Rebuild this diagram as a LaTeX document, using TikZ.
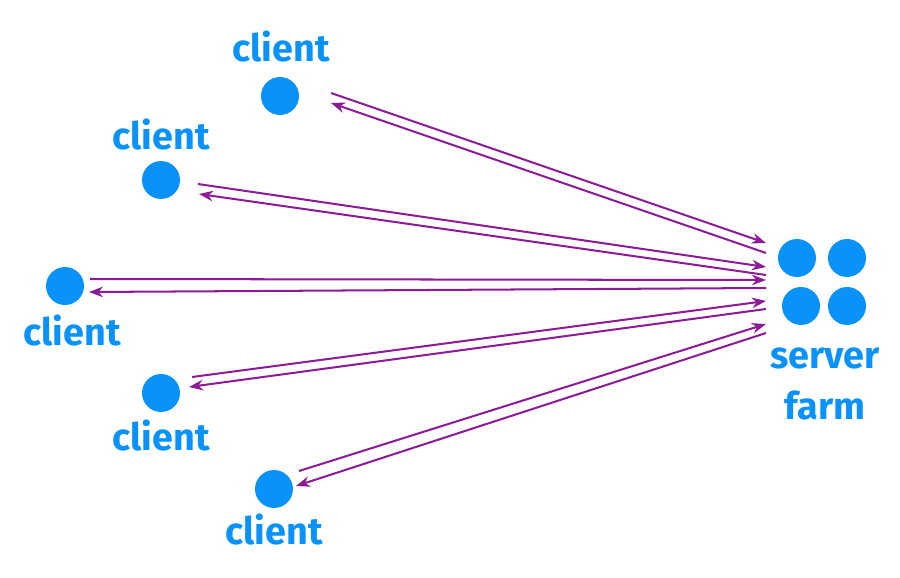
\documentclass[tikz,border=0pt]{standalone}
\usepackage{fontspec}
\setmainfont{Fira Sans}
\usetikzlibrary{arrows.meta}
\definecolor{hostblue}{RGB}{8,146,250}
\definecolor{linkpurple}{RGB}{140,28,150}
\begin{document}
\begin{tikzpicture}[x=0.02cm,y=-0.02cm,
  dot/.style={circle,fill=hostblue,draw=none,minimum size=0.76cm,inner sep=0pt},
  lbl/.style={text=hostblue,font=\fontsize{21.5}{25}\selectfont\bfseries,anchor=base,inner sep=0pt},
  link/.style={draw=linkpurple,line width=1.15pt,-{Stealth[length=8pt,width=6pt]}}]
\useasboundingbox (0,0) rectangle (900,578);

% clients
\node[dot] (c1) at (280,96) {};
\node[dot] (c2) at (161,180) {};
\node[dot] (c3) at (65,286) {};
\node[dot] (c4) at (161,393) {};
\node[dot] (c5) at (274,489) {};
\node[lbl] (l1) at (281,61) {client};
\node[lbl] (l2) at (161,149) {client};
\node[lbl] (l3) at (72,345) {client};
\node[lbl] (l4) at (161,450) {client};
\node[lbl] (l5) at (274,544) {client};

% server farm
\node[dot] (s1) at (797,258) {};
\node[dot] (s2) at (847,258) {};
\node[dot] (s3) at (801,306) {};
\node[dot] (s4) at (847,306) {};
\node[lbl] (sv) at (825,368) {server};
\node[lbl] (sf) at (825,419) {farm};

% link end points: client side
\coordinate (c1o) at (331,93);  \coordinate (c1i) at (331,103);
\coordinate (c2o) at (198,184); \coordinate (c2i) at (199,194);
\coordinate (c3o) at (90,279);  \coordinate (c3i) at (89,292);
\coordinate (c4o) at (192,377); \coordinate (c4i) at (189,387);
\coordinate (c5o) at (299,471); \coordinate (c5i) at (296,486);
% link end points: server side
\coordinate (f1i) at (766,243); \coordinate (f1o) at (766,253);
\coordinate (f2i) at (766,267); \coordinate (f2o) at (766,275);
\coordinate (f3i) at (766,280); \coordinate (f3o) at (766,288);
\coordinate (f4i) at (766,301); \coordinate (f4o) at (766,309);
\coordinate (f5i) at (766,324); \coordinate (f5o) at (766,333);

% requests and replies
\foreach \k in {1,...,5}{
  \draw[link] (c\k o) -- (f\k i);
  \draw[link] (f\k o) -- (c\k i);
}
\end{tikzpicture}
\end{document}
